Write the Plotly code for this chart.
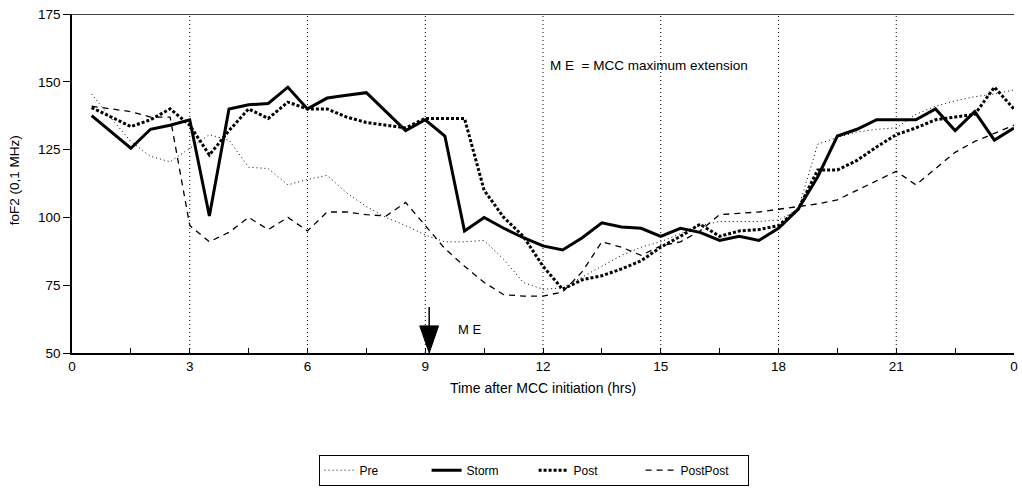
import plotly.graph_objects as go

# foF2 (0.1 MHz) against time after MCC initiation (hours), four composites
storm_t = [0.5, 1.5, 2.0, 2.5, 3.0, 3.5, 4.0, 4.5, 5.0, 5.5, 6.0, 6.5, 7.0, 7.5, 8.0, 8.5,
           9.0, 9.5, 10.0, 10.5, 11.0, 11.5, 12.0, 12.5, 13.0, 13.5, 14.0, 14.5, 15.0, 15.5,
           16.0, 16.5, 17.0, 17.5, 18.0, 18.5, 19.0, 19.5, 20.0, 20.5, 21.0, 21.5, 22.0,
           22.5, 23.0, 23.5, 24.0]
storm_v = [137.5, 125.5, 132.5, 134, 136, 100.5, 140, 141.5, 142, 148, 140, 144, 145, 146,
           139, 132, 136, 130, 95, 100, 96, 92.5, 89.5, 88, 92.5, 98, 96.5, 96, 93, 96,
           94.5, 91.5, 93, 91.5, 96, 103, 115, 130, 132.5, 136, 136, 136, 140, 132, 139,
           128.5, 133]

pre_t = [0.5, 1.0, 1.5, 2.0, 2.5, 3.0, 3.5, 4.0, 4.5, 5.0, 5.5, 6.0, 6.5, 7.0, 7.5, 8.0,
         8.5, 9.0, 9.5, 10.0, 10.5, 11.0, 11.5, 12.0, 12.5, 13.0, 13.5, 14.0, 14.5, 15.0,
         15.5, 16.0, 16.5, 17.0, 17.5, 18.0, 18.5, 19.0, 19.5, 20.0, 20.5, 21.0, 21.5,
         22.0, 22.5, 23.0, 23.5, 24.0]
pre_v = [145.5, 136.5, 128, 122.5, 120.5, 125.5, 130.5, 128.5, 118.5, 118, 112, 114,
         115.5, 109, 104, 100, 97, 93.5, 91, 91, 91.5, 84.5, 76, 73.5, 74, 78, 82, 86,
         89, 91, 94, 97, 98.5, 98.5, 98.5, 99, 103, 127, 129.5, 131.5, 132.5, 133, 138,
         141, 143, 144.5, 145.5, 147]

post_t = [0.5, 1.0, 1.5, 2.0, 2.5, 3.0, 3.5, 4.0, 4.5, 5.0, 5.5, 6.0, 6.5, 7.0, 7.5, 8.0,
          8.5, 9.0, 9.5, 10.0, 10.5, 11.0, 11.5, 12.0, 12.5, 13.0, 13.5, 14.0, 14.5, 15.0,
          15.5, 16.0, 16.5, 17.0, 17.5, 18.0, 18.5, 19.0, 19.5, 20.0, 20.5, 21.0, 21.5,
          22.0, 22.5, 23.0, 23.5, 24.0]
post_v = [140.5, 137, 133.5, 136, 140, 134, 123, 132, 140, 136.5, 142.5, 140, 140, 137,
          135, 134, 133, 136.5, 136.5, 136.5, 110, 100, 93, 82, 73.5, 77, 78.5, 81, 84,
          89, 93, 97.5, 93, 95, 95.5, 97, 103, 117.5, 117.5, 121, 126, 130.5, 133, 136,
          137, 138, 148, 140]

postpost_t = [0.5, 1.0, 1.5, 2.0, 2.5, 3.0, 3.5, 4.0, 4.5, 5.0, 5.5, 6.0, 6.5, 7.0, 7.5,
              8.0, 8.5, 9.0, 9.5, 10.0, 10.5, 11.0, 11.5, 12.0, 12.5, 13.0, 13.5, 14.0,
              14.5, 15.0, 15.5, 16.0, 16.5, 17.0, 17.5, 18.0, 18.5, 19.0, 19.5, 20.0, 20.5,
              21.0, 21.5, 22.0, 22.5, 23.0, 23.5, 24.0]
postpost_v = [141, 140, 139, 137, 137, 97, 91, 94.5, 100, 95.5, 100, 95, 102, 102, 101,
              100.5, 105.5, 97, 88.5, 82, 76, 71.5, 71, 71, 72.5, 80, 91, 89, 86, 89.5, 91,
              95, 101, 101.5, 102, 103, 104, 105, 106.5, 110, 113.5, 117, 112, 118, 124,
              128, 131, 134]

x_major = [0, 3, 6, 9, 12, 15, 18, 21, 24]
x_labels = ["0", "3", "6", "9", "12", "15", "18", "21", "0"]
y_ticks = [50, 75, 100, 125, 150, 175]

FONT = "Arial, Liberation Sans, sans-serif"

fig = go.Figure()
fig.add_trace(go.Scatter(x=pre_t, y=pre_v, name="Pre", mode="lines",
                         line=dict(color="black", width=1, dash="1px,3px")))
fig.add_trace(go.Scatter(x=storm_t, y=storm_v, name="Storm", mode="lines",
                         line=dict(color="black", width=3)))
fig.add_trace(go.Scatter(x=post_t, y=post_v, name="Post", mode="lines",
                         line=dict(color="black", width=3, dash="3px,2px")))
fig.add_trace(go.Scatter(x=postpost_t, y=postpost_v, name="PostPost", mode="lines",
                         line=dict(color="black", width=1.3, dash="6px,5px")))

# dotted vertical guides every 3 hours
shapes = []
for t in x_major[1:-1]:
    shapes.append(dict(type="line", xref="x", yref="y", x0=t, x1=t, y0=50, y1=175,
                       line=dict(color="black", width=1, dash="1px,3px"), layer="below"))
# ME marker arrow at the x axis
shapes.append(dict(type="line", xref="x", yref="y", x0=9.1, x1=9.1, y0=67, y1=59,
                   line=dict(color="black", width=1.5)))
shapes.append(dict(type="path", xref="x", yref="y",
                   path="M 8.86,60 L 9.34,60 L 9.1,50 Z",
                   fillcolor="black", line=dict(color="black", width=1)))

fig.update_layout(
    width=1022, height=490,
    margin=dict(l=72, r=4, t=14, b=136),
    paper_bgcolor="white", plot_bgcolor="white",
    font=dict(family=FONT, size=13, color="black"),
    shapes=shapes,
    showlegend=True,
    legend=dict(orientation="h", x=0.49, xanchor="center", y=-0.30, yanchor="top",
                bordercolor="black", borderwidth=1, font=dict(size=12, family=FONT),
                entrywidth=62, tracegroupgap=0),
    annotations=[
        dict(text="M E  = MCC maximum extension", x=12.13, y=155.9, xref="x", yref="y",
             xanchor="left", yanchor="middle", showarrow=False, font=dict(size=13.5)),
        dict(text="M E", x=10.12, y=58.8, xref="x", yref="y", xanchor="center",
             yanchor="middle", showarrow=False, font=dict(size=13)),
        dict(text="foF2 (0,1 MHz)", x=-58 / 946, y=0.51, xref="paper", yref="paper",
             textangle=-90, xanchor="center", yanchor="middle", showarrow=False,
             font=dict(size=13.5)),
    ],
)

fig.update_xaxes(
    range=[0, 24], tickmode="array", tickvals=x_major, ticktext=x_labels,
    ticks="inside", ticklen=5, tickcolor="black", showgrid=False, zeroline=False,
    showline=True, linecolor="black", linewidth=1.5, mirror=False,
    tickfont=dict(size=13.5),
    minor=dict(tickvals=[1.5, 4.5, 7.5, 10.5, 13.5, 16.5, 19.5, 22.5], ticks="inside",
               ticklen=5, tickcolor="black", showgrid=False),
    title=dict(text="Time after MCC initiation (hrs)", font=dict(size=14), standoff=10),
)
fig.update_yaxes(
    range=[50, 175], tickmode="array", tickvals=y_ticks, ticks="outside", ticklen=7,
    tickcolor="black", showgrid=False, zeroline=False, showline=True, linecolor="black",
    linewidth=1.5, tickfont=dict(size=13.5),
)
# solid frame line along the top of the plotting area
fig.add_shape(type="line", xref="paper", yref="y", x0=0, x1=1, y0=175, y1=175,
              line=dict(color="black", width=1.5))

fig.write_html("out.html")
